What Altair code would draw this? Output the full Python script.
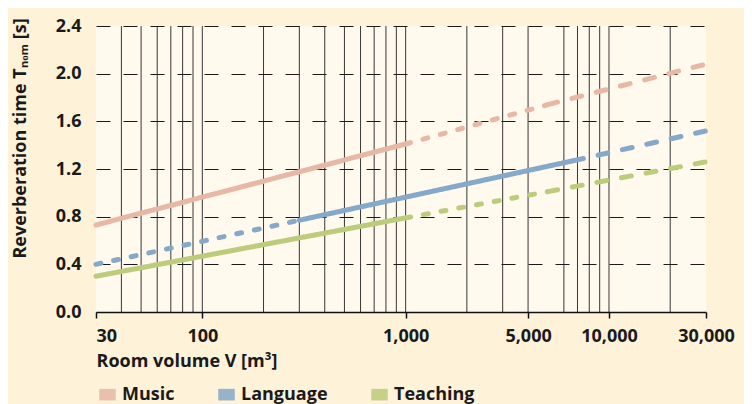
import altair as alt
import pandas as pd

# ---- data ----
SERIES = ["Music", "Language", "Teaching"]
SERIES_COLORS = ["#E6B8A5", "#86A9CA", "#BDCC7B"]

MUSIC_V = [30, 1000, 5000, 30000]
MUSIC_T = [0.73, 1.41, 1.74, 2.08]
MUSIC_STYLE = ["solid", "short", "long"]

LANGUAGE_V = [30, 300, 6700, 30000]
LANGUAGE_T = [0.40, 0.77, 1.27, 1.52]
LANGUAGE_STYLE = ["short", "solid", "long"]

TEACHING_V = [30, 1000, 5000, 30000]
TEACHING_T = [0.30, 0.79, 1.01, 1.26]
TEACHING_STYLE = ["solid", "short", "long"]

GRID_V = [40, 50, 60, 70, 80, 90, 100, 200, 300, 400, 500, 600, 700, 800, 900,
          1000, 2000, 3000, 4000, 6000, 7000, 8000, 9000, 10000, 20000]

TICK_V = [30, 100, 1000, 4000, 10000, 30000]
TICK_LABELS = ["30", "100", "1,000", "5,000", "10,000", "30,000"]

Y_TICKS = [0.0, 0.4, 0.8, 1.2, 1.6, 2.0, 2.4]

STYLE_NAMES = ["solid", "short", "long"]
STYLE_DASHES = [[1, 0], [5, 13], [10, 15]]

# ---- build table ----
rows = []
seg = 0
for name, vs, ts, styles in [
    ("Music", MUSIC_V, MUSIC_T, MUSIC_STYLE),
    ("Language", LANGUAGE_V, LANGUAGE_T, LANGUAGE_STYLE),
    ("Teaching", TEACHING_V, TEACHING_T, TEACHING_STYLE),
]:
    for i, st in enumerate(styles):
        for j in (i, i + 1):
            rows.append({"series": name, "seg": seg, "V": vs[j], "T": ts[j], "style": st})
        seg += 1
df = pd.DataFrame(rows)

label_expr = " : ".join(
    f"datum.value == {v} ? '{lab}'" for v, lab in zip(TICK_V, TICK_LABELS)
) + " : ''"

FONT = "Open Sans"
FW = 700

x_scale = alt.Scale(type="log", domain=[30, 30000], nice=False)
y_scale = alt.Scale(domain=[0, 2.4], nice=False, zero=False)

x_axis = alt.Axis(
    values=TICK_V, labelExpr=label_expr, grid=False,
    domainColor="#111111", domainWidth=1.5,
    tickColor="#111111", tickWidth=1.5, tickSize=6,
    labelFontSize=18, labelFontWeight=FW, labelColor="#1a1a1a", labelPadding=9,
    labelAlign={"condition": {"test": "datum.value <= 30", "value": "left"}, "value": "center"},
    labelFlush=False, labelOverlap=False, labelBound=False,
    title="Room volume V [m³]", titleAnchor="start", titleAlign="left",
    titleX=0, titleY=40, titleBaseline="top", titleFontSize=18, titleFontWeight=FW,
    titleColor="#1a1a1a",
)

y_axis = alt.Axis(
    values=Y_TICKS, format=".1f", domain=False, ticks=False,
    grid=True, gridDash=[14, 13], gridColor="#1a1a1a", gridWidth=1.2, gridOpacity=1,
    labelPadding=15, labelFontSize=18, labelFontWeight=FW, labelColor="#1a1a1a",
    title="Reverberation time Tₙₒₘ [s]", titleAngle=270, titleX=-85, titleY=112,
    titleAlign="center", titleBaseline="top", titleFontSize=18, titleFontWeight=FW,
    titleColor="#1a1a1a",
)

grid = alt.Chart(pd.DataFrame({"V": GRID_V})).mark_rule(
    color="#222222", strokeWidth=1, opacity=0.9
).encode(x=alt.X("V:Q", scale=x_scale, axis=x_axis))

lines = alt.Chart(df).mark_line(strokeWidth=5, strokeCap="round").encode(
    x=alt.X("V:Q", scale=x_scale, axis=x_axis),
    y=alt.Y("T:Q", scale=y_scale, axis=y_axis),
    color=alt.Color(
        "series:N",
        scale=alt.Scale(domain=SERIES, range=SERIES_COLORS),
        legend=alt.Legend(
            orient="none", legendX=-3, legendY=354, direction="horizontal", title=None,
            symbolType="M-1,0H1", symbolSize=272, symbolStrokeWidth=11.6, symbolOpacity=0.85,
            labelFontSize=18, labelFontWeight=FW, labelColor="#1a1a1a",
            labelOffset=0, columnPadding=20,
        ),
    ),
    strokeDash=alt.StrokeDash(
        "style:N", scale=alt.Scale(domain=STYLE_NAMES, range=STYLE_DASHES), legend=None
    ),
    detail="seg:N",
)

chart = alt.layer(grid, lines).properties(
    width=610, height=286,
    autosize=alt.AutoSizeParams(type="none"),
    padding={"left": 88, "top": 18, "right": 38, "bottom": 92},
    background="#FEF2D9",
).configure(font=FONT).configure_view(fill="#FFF9EE", strokeWidth=0)

chart.save("out.html", embed_options={"renderer": "svg", "actions": False})
